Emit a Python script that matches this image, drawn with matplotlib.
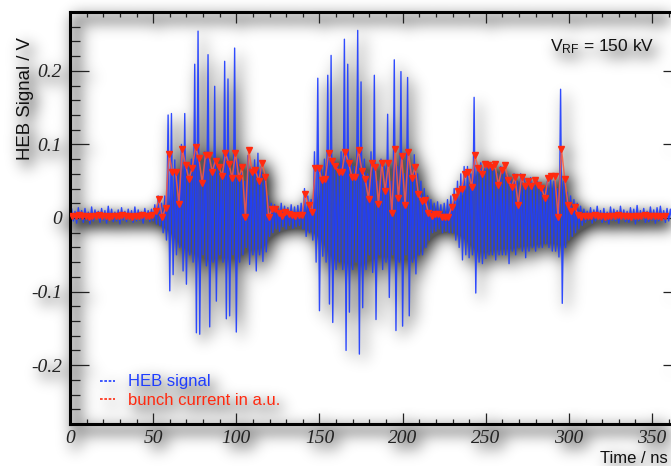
import numpy as np
import matplotlib
matplotlib.use('Agg')
import matplotlib.pyplot as plt
from matplotlib.lines import Line2D
from matplotlib.ticker import MultipleLocator

# bunch spacing 2 ns, first bunch at 1.5 ns
BUNCH_T0 = 1.5
BUNCH_DT = 2.0

# bunch current (a.u.) per bunch, t = 1.5 ... 357.5 ns
bunch_current = [
    0.003, 0.003, 0.004, 0.003, 0.003, 0.002, 0.003, 0.003, 0.004, 0.003,
    0.003, 0.002, 0.003, 0.003, 0.003, 0.004, 0.003, 0.003, 0.002, 0.003,
    0.003, 0.004, 0.003, 0.003, 0.004, 0.010, 0.026, 0.001, 0.014, 0.087,
    0.063, 0.063, 0.019, 0.094, 0.072, 0.053, 0.068, 0.097, 0.081, 0.048,
    0.086, 0.086, 0.063, 0.078, 0.070, 0.057, 0.088, 0.074, 0.054, 0.089,
    0.055, 0.069, 0.001, 0.093, 0.062, 0.065, 0.050, 0.075, 0.056, 0.001,
    0.012, 0.012, 0.007, 0.003, 0.008, 0.005, 0.004, 0.003, 0.004, 0.004,
    0.033, 0.017, 0.008, 0.068, 0.068, 0.051, 0.053, 0.088, 0.077, 0.071,
    0.062, 0.063, 0.090, 0.075, 0.056, 0.056, 0.093, 0.064, 0.053, 0.026,
    0.075, 0.070, 0.019, 0.075, 0.037, 0.075, 0.007, 0.094, 0.027, 0.084,
    0.018, 0.090, 0.054, 0.069, 0.032, 0.023, 0.025, 0.007, 0.003, 0.006,
    0.006, 0.002, 0.002, 0.001, 0.015, 0.029, 0.037, 0.040, 0.060, 0.063,
    0.042, 0.085, 0.068, 0.060, 0.074, 0.072, 0.069, 0.073, 0.045, 0.065,
    0.072, 0.052, 0.042, 0.056, 0.018, 0.056, 0.043, 0.050, 0.043, 0.052,
    0.045, 0.041, 0.027, 0.054, 0.057, 0.057, 0.002, 0.094, 0.053, 0.017,
    0.010, 0.015, 0.004, 0.002, 0.003, 0.003, 0.003, 0.004, 0.003, 0.003,
    0.002, 0.003, 0.003, 0.003, 0.004, 0.003, 0.003, 0.003, 0.002, 0.003,
    0.003, 0.003, 0.004, 0.003, 0.003, 0.003, 0.003, 0.002, 0.003,
]

# HEB signal: positive swing at each bunch (V), t = 1.5 ... 367.5 ns
heb_hi = [
    0.012, 0.009, 0.014, 0.010, 0.013, 0.008, 0.015, 0.011, 0.009, 0.013,
    0.010, 0.016, 0.012, 0.008, 0.011, 0.014, 0.009, 0.012, 0.010, 0.015,
    0.011, 0.008, 0.013, 0.010, 0.012, 0.018, 0.030, 0.020, 0.030, 0.140,
    0.142, 0.079, 0.060, 0.100, 0.142, 0.070, 0.080, 0.209, 0.254, 0.060,
    0.090, 0.222, 0.070, 0.179, 0.070, 0.060, 0.213, 0.189, 0.060, 0.231,
    0.080, 0.063, 0.050, 0.085, 0.070, 0.079, 0.088, 0.070, 0.060, 0.030,
    0.020, 0.018, 0.015, 0.020, 0.016, 0.014, 0.018, 0.015, 0.017, 0.020,
    0.040, 0.030, 0.025, 0.090, 0.190, 0.070, 0.080, 0.194, 0.221, 0.080,
    0.070, 0.090, 0.243, 0.209, 0.080, 0.070, 0.255, 0.185, 0.080, 0.060,
    0.090, 0.194, 0.050, 0.080, 0.070, 0.141, 0.050, 0.215, 0.070, 0.199,
    0.060, 0.191, 0.070, 0.086, 0.060, 0.050, 0.040, 0.030, 0.025, 0.020,
    0.022, 0.018, 0.020, 0.025, 0.030, 0.040, 0.050, 0.060, 0.070, 0.070,
    0.060, 0.164, 0.070, 0.075, 0.070, 0.075, 0.070, 0.065, 0.060, 0.070,
    0.065, 0.060, 0.055, 0.060, 0.050, 0.060, 0.055, 0.050, 0.055, 0.050,
    0.050, 0.045, 0.040, 0.050, 0.055, 0.050, 0.040, 0.175, 0.050, 0.035,
    0.030, 0.025, 0.020, 0.016, 0.012, 0.009, 0.014, 0.011, 0.016, 0.010,
    0.013, 0.008, 0.015, 0.012, 0.010, 0.016, 0.011, 0.009, 0.014, 0.012,
    0.017, 0.010, 0.013, 0.009, 0.015, 0.011, 0.014, 0.016, 0.010, 0.013,
    0.012, 0.015, 0.009, 0.014,
]

# HEB signal: negative swing following each bunch (V)
heb_lo = [
    -0.004, -0.007, -0.002, -0.006, -0.003, -0.008, -0.004, -0.001, -0.006, -0.003,
    -0.007, -0.002, -0.005, -0.004, -0.008, -0.003, -0.005, -0.002, -0.006, -0.004,
    -0.003, -0.007, -0.002, -0.005, -0.004, -0.008, -0.010, -0.020, -0.030, -0.099,
    -0.077, -0.050, -0.040, -0.072, -0.090, -0.050, -0.060, -0.156, -0.158, -0.050,
    -0.065, -0.148, -0.060, -0.113, -0.050, -0.060, -0.137, -0.133, -0.050, -0.155,
    -0.060, -0.050, -0.040, -0.063, -0.050, -0.072, -0.050, -0.059, -0.046, -0.025,
    -0.020, -0.015, -0.018, -0.012, -0.015, -0.010, -0.014, -0.012, -0.010, -0.015,
    -0.025, -0.020, -0.030, -0.060, -0.126, -0.052, -0.060, -0.117, -0.142, -0.070,
    -0.060, -0.070, -0.180, -0.128, -0.070, -0.060, -0.185, -0.122, -0.070, -0.050,
    -0.074, -0.138, -0.050, -0.070, -0.060, -0.108, -0.050, -0.153, -0.060, -0.147,
    -0.050, -0.133, -0.060, -0.076, -0.050, -0.050, -0.040, -0.030, -0.020, -0.018,
    -0.015, -0.020, -0.018, -0.020, -0.020, -0.030, -0.040, -0.057, -0.050, -0.054,
    -0.050, -0.102, -0.060, -0.062, -0.055, -0.050, -0.050, -0.057, -0.050, -0.050,
    -0.050, -0.062, -0.045, -0.050, -0.040, -0.045, -0.054, -0.045, -0.040, -0.045,
    -0.040, -0.040, -0.035, -0.040, -0.045, -0.045, -0.053, -0.116, -0.040, -0.030,
    -0.025, -0.020, -0.015, -0.010, -0.006, -0.003, -0.007, -0.004, -0.002, -0.006,
    -0.005, -0.008, -0.003, -0.004, -0.007, -0.002, -0.005, -0.006, -0.003, -0.008,
    -0.004, -0.002, -0.006, -0.005, -0.003, -0.007, -0.004, -0.002, -0.006, -0.004,
    -0.005, -0.003, -0.007, -0.004,
]

x_ticks = [0, 50, 100, 150, 200, 250, 300, 350]
y_ticks = [-0.2, -0.1, 0, 0.1, 0.2]
y_tick_labels = ['-0.2', '-0.1', '0', '0.1', '0.2']

BLUE = '#1f3dff'
RED = '#ff2a10'

t_red = BUNCH_T0 + BUNCH_DT * np.arange(len(bunch_current))
t_blue = BUNCH_T0 + BUNCH_DT * np.arange(len(heb_hi))

# interleave the swings into one waveform, 1 ns apart
sig_t = np.column_stack([t_blue - 0.5, t_blue + 0.5]).ravel()
sig_v = np.column_stack([heb_hi, heb_lo]).ravel()

W, H = 671, 466
fig = plt.figure(figsize=(W / 100, H / 100), dpi=100, facecolor='white')
# frame runs past the right edge of the image
ax = fig.add_axes([70 / W, 42 / H, (682 - 70) / W, (424 - 12) / H])
ax.set_facecolor('none')

ax.plot(sig_t, sig_v, color=BLUE, lw=1.0, alpha=0.92, zorder=2)
ax.plot(t_red, bunch_current, color='#ff5a3c', lw=1.1, alpha=0.85, zorder=3)
ax.plot(t_red, bunch_current, ls='none', marker='v', ms=4.2, color=RED,
        mec=RED, zorder=4)

ax.set_xlim(0, 368)
ax.set_ylim(-0.28, 0.28)
ax.set_xticks(x_ticks)
ax.set_xticklabels([str(v) for v in x_ticks])
ax.set_yticks(y_ticks)
ax.set_yticklabels(y_tick_labels)
ax.xaxis.set_minor_locator(MultipleLocator(10))
ax.yaxis.set_minor_locator(MultipleLocator(0.02))

for s in ax.spines.values():
    s.set_linewidth(2.2)
ax.tick_params(axis='both', which='both', direction='in', top=True, right=True,
               width=0.9, color='#222222')
ax.tick_params(axis='x', which='major', length=7.9, pad=4)
ax.tick_params(axis='x', which='minor', length=3.6)
ax.tick_params(axis='y', which='major', length=13.7, pad=6)
ax.tick_params(axis='y', which='minor', length=7.2)
for lab in ax.get_xticklabels() + ax.get_yticklabels():
    lab.set_family('Liberation Serif')
    lab.set_style('italic')
    lab.set_fontsize(14)
    lab.set_color('#222222')

fig.text(26 / W, 1 - 37 / H, 'HEB Signal / V', rotation=90, ha='center',
         va='top', fontsize=13.4, family='Liberation Sans', color='#111111')
fig.text(668 / W, 1 - 463 / H, 'Time / ns', ha='right', va='baseline',
         fontsize=12, family='Liberation Sans', color='#111111')
fig.text(550 / W, 1 - 51.7 / H, r'$\mathregular{V_{RF}}$ = 150 kV', ha='left',
         va='baseline', fontsize=12.5, family='Liberation Sans',
         color='#111111')

handles = [Line2D([], [], color=BLUE, lw=1.2, ls=(0, (1.6, 1.0))),
           Line2D([], [], color=RED, lw=1.2, ls=(0, (1.6, 1.0)))]
leg = ax.legend(handles, ['HEB signal', 'bunch current in a.u.'],
                loc='lower left', bbox_to_anchor=(100 / W, 1 - 408 / H),
                bbox_transform=fig.transFigure, frameon=False,
                borderpad=0, borderaxespad=0, handlelength=0.9,
                handletextpad=0.8, labelspacing=0.22,
                prop={'family': 'Liberation Sans', 'size': 12})
for txt, c in zip(leg.get_texts(), [BLUE, RED]):
    txt.set_color(c)

# soft drop shadow under everything drawn
fig.canvas.draw()
rgb = np.asarray(fig.canvas.buffer_rgba())[..., :3].astype(float) / 255.0
ink = 1.0 - rgb.min(axis=2)


def gauss_blur(a, sigma):
    r = int(3 * sigma)
    x = np.arange(-r, r + 1)
    g = np.exp(-x ** 2 / (2.0 * sigma ** 2))
    g /= g.sum()
    a = np.pad(a, r)
    a = np.apply_along_axis(lambda v: np.convolve(v, g, mode='same'), 1, a)
    a = np.apply_along_axis(lambda v: np.convolve(v, g, mode='same'), 0, a)
    return a[r:-r, r:-r]


dx, dy = 5, 6
shifted = np.zeros_like(ink)
shifted[dy:, dx:] = ink[:-dy, :-dx]
shade = np.clip(gauss_blur(shifted, 7.5) * 1.45, 0, 0.66)
shadow = np.zeros((ink.shape[0], ink.shape[1], 4))
shadow[..., 3] = shade
fig.figimage(shadow, xo=0, yo=0, origin='upper', zorder=-5)

fig.savefig('out.png', dpi=100, facecolor='white')
